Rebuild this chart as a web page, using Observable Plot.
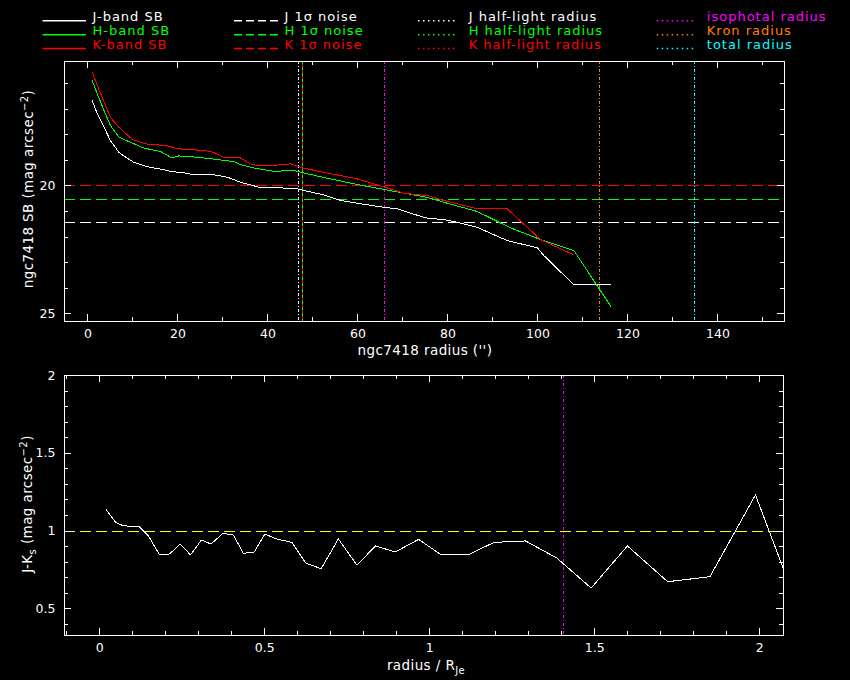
<!DOCTYPE html>
<html><head><meta charset="utf-8">
<script src="https://cdn.jsdelivr.net/npm/d3@7"></script>
<script src="https://cdn.jsdelivr.net/npm/@observablehq/plot@0.6"></script>
<style>
html,body{margin:0;padding:0;background:#000;}
#wrap{position:relative;width:850px;height:680px;background:#000;overflow:hidden;font-family:"DejaVu Sans",sans-serif;}
#wrap > svg{position:absolute;left:0;}
</style></head><body><div id="wrap"></div>
<script>
// ---------- data ----------
const jRadius = [0.97, 2.1, 3.6, 5.0, 6.9, 8.4, 10.2, 13.2, 16.2, 18.7, 21.3, 23.6, 28, 31, 33.9, 38.4, 45.8, 48, 52.4, 56.2, 60.6, 65.8, 68.8, 75, 79.1, 82.1, 86.5, 93.2, 99.9, 101.3, 108, 116.2];
const jSB     = [16.67, 17.19, 17.71, 18.23, 18.69, 18.88, 19.08, 19.25, 19.35, 19.44, 19.49, 19.57, 19.57, 19.66, 19.86, 20.07, 20.09, 20.18, 20.35, 20.57, 20.7, 20.84, 20.9, 21.25, 21.32, 21.42, 21.62, 22.14, 22.42, 22.72, 23.87, 23.87];
const hRadius = [0.97, 2.1, 3.6, 5.0, 6.9, 9.5, 12.4, 16.2, 18.7, 20.2, 24.3, 28.8, 32.4, 33.9, 36.9, 41.3, 45.8, 48.8, 53.2, 59.1, 65.8, 75.4, 79.9, 86.5, 93.9, 100.6, 108, 116.2];
const hSB     = [15.89, 16.41, 17.06, 17.64, 18.1, 18.3, 18.52, 18.66, 18.91, 18.83, 18.88, 18.97, 19.05, 19.17, 19.3, 19.43, 19.4, 19.53, 19.7, 19.92, 20.14, 20.45, 20.68, 21.0, 21.64, 22.1, 22.53, 24.7];
const kRadius = [0.97, 2.1, 3.6, 5.0, 6.9, 9.9, 12.8, 17.6, 19.9, 23.6, 27.3, 30.2, 33.9, 36.5, 40.6, 45, 48, 53.2, 59.5, 65.8, 70.2, 75.4, 79.9, 86.5, 93.2, 100.6, 108];
const kSB     = [15.56, 16.08, 16.73, 17.32, 17.71, 18.19, 18.36, 18.43, 18.55, 18.59, 18.65, 18.88, 18.91, 19.18, 19.21, 19.14, 19.31, 19.5, 19.71, 20.04, 20.29, 20.38, 20.61, 20.9, 20.9, 22.1, 22.7];

const bandNames  = ["J", "H", "K"];
const bandColors = ["#ffffff", "#00ff00", "#ff0000"];
const noiseSB    = [21.45, 20.55, 20.0];

const radiusNames  = ["J half-light radius", "H half-light radius", "K half-light radius", "isophotal radius", "Kron radius", "total radius"];
const radiusValues = [46.7, 47.6, 47.6, 66.0, 113.6, 134.7];
const radiusColors = ["#ffffff", "#00ff00", "#ff0000", "#ff00ff", "#ff8000", "#00ffff"];

const jkRadius = [0.020, 0.048, 0.062, 0.082, 0.117, 0.147, 0.181, 0.211, 0.244, 0.275, 0.308, 0.337, 0.373, 0.405, 0.435, 0.468, 0.500, 0.536, 0.582, 0.625, 0.671, 0.723, 0.779, 0.836, 0.895, 0.966, 1.034, 1.117, 1.195, 1.290, 1.385, 1.489, 1.599, 1.721, 1.849, 1.987, 2.072];
const jkColor  = [1.135, 1.055, 1.04, 1.032, 1.032, 0.97, 0.846, 0.852, 0.916, 0.846, 0.942, 0.916, 0.985, 0.974, 0.856, 0.865, 0.98, 0.949, 0.927, 0.792, 0.758, 0.949, 0.781, 0.904, 0.865, 0.946, 0.848, 0.848, 0.927, 0.936, 0.826, 0.633, 0.904, 0.674, 0.706, 1.232, 0.756];
const jkReference = [1.0];
const jkIsophotal = [1.404];

// tick values
const topXMajor = [0, 20, 40, 60, 80, 100, 120, 140];
const topXMinor = [10, 30, 50, 70, 90, 110, 130, 150];
const topYMajor = [20, 25];
const topYMinor = [16, 17, 18, 19, 21, 22, 23, 24];
const botXMajor = [0, 0.5, 1, 1.5, 2];
const botXMinor = [-0.1, 0.1, 0.2, 0.3, 0.4, 0.6, 0.7, 0.8, 0.9, 1.1, 1.2, 1.3, 1.4, 1.6, 1.7, 1.8, 1.9];
const botYMajor = [0.5, 1, 1.5, 2];
const botYMinor = [0.4, 0.6, 0.7, 0.8, 0.9, 1.1, 1.2, 1.3, 1.4, 1.6, 1.7, 1.8, 1.9];

// legend entries
const legendCols = [
  {kind: "solid", items: [["J-band SB", "#ffffff"], ["H-band SB", "#00ff00"], ["K-band SB", "#ff0000"]]},
  {kind: "dash",  items: [["J 1σ noise", "#ffffff"], ["H 1σ noise", "#00ff00"], ["K 1σ noise", "#ff0000"]]},
  {kind: "dot",   items: [["J half-light radius", "#ffffff"], ["H half-light radius", "#00ff00"], ["K half-light radius", "#ff0000"]]},
  {kind: "dot",   items: [["isophotal radius", "#ff00ff"], ["Kron radius", "#ff8000"], ["total radius", "#00ffff"]]}
];

// ---------- build tables ----------
const profiles = [
  ...jRadius.map((r, i) => ({band: "J", r, sb: jSB[i]})),
  ...hRadius.map((r, i) => ({band: "H", r, sb: hSB[i]})),
  ...kRadius.map((r, i) => ({band: "K", r, sb: kSB[i]}))
];
const noise = bandNames.map((b, i) => ({band: b, sb: noiseSB[i], color: bandColors[i]}));
const radii = radiusNames.map((n, i) => ({name: n, r: radiusValues[i], color: radiusColors[i]}));
const jk = jkRadius.map((r, i) => ({r, c: jkColor[i]}));

const wrap = document.getElementById("wrap");
const FONT = "DejaVu Sans";
const dotted = "3,2,1,2";
const crisp = {shapeRendering: "crispEdges"};

function tickMarks(xMajor, xMinor, yMajor, yMinor, innerW, innerH) {
  const M = 7, m = 4;
  const o = {stroke: "white", ...crisp};
  return [
    Plot.ruleX(xMajor, {x: d => d, ...o, insetTop: innerH - M}),
    Plot.ruleX(xMajor, {x: d => d, ...o, insetBottom: innerH - M}),
    Plot.ruleX(xMinor, {x: d => d, ...o, insetTop: innerH - m}),
    Plot.ruleX(xMinor, {x: d => d, ...o, insetBottom: innerH - m}),
    Plot.ruleY(yMajor, {y: d => d, ...o, insetRight: innerW - M}),
    Plot.ruleY(yMajor, {y: d => d, ...o, insetLeft: innerW - M}),
    Plot.ruleY(yMinor, {y: d => d, ...o, insetRight: innerW - m}),
    Plot.ruleY(yMinor, {y: d => d, ...o, insetLeft: innerW - m})
  ];
}

// ---------- top plot ----------
const T = {w: 850, h: 315, ml: 64, mr: 66, mt: 11, mb: 44};
const topPlot = Plot.plot({
  width: T.w, height: T.h, marginLeft: T.ml, marginRight: T.mr, marginTop: T.mt, marginBottom: T.mb,
  style: {background: "black", color: "white", fontFamily: FONT, fontSize: "12.5px"},
  x: {domain: [-5.2, 154.8]},
  y: {domain: [15.14, 25.3], reverse: true},
  color: {type: "identity"},
  marks: [
    Plot.ruleY(noise, {y: "sb", stroke: "color", strokeDasharray: "11,5", strokeWidth: 1, ...crisp}),
    Plot.ruleX(radii.filter(d => d.name !== "H half-light radius" && d.name !== "K half-light radius"), {x: "r", stroke: "color", strokeDasharray: dotted, strokeWidth: 1, ...crisp}),
    Plot.ruleX(radii.filter(d => d.name === "H half-light radius"), {x: "r", stroke: "color", strokeDasharray: "3,3", strokeWidth: 1, ...crisp}),
    Plot.ruleX(radii.filter(d => d.name === "K half-light radius"), {x: "r", stroke: "color", strokeDasharray: "3,3", strokeDashoffset: 3, strokeWidth: 1, ...crisp}),
    Plot.line(profiles, {x: "r", y: "sb", z: "band", stroke: d => bandColors[bandNames.indexOf(d.band)], strokeWidth: 1, ...crisp}),
    Plot.frame({stroke: "white", ...crisp}),
    ...tickMarks(topXMajor, topXMinor, topYMajor, topYMinor, T.w - T.ml - T.mr, T.h - T.mt - T.mb),
    Plot.axisX({ticks: topXMajor, tickSize: 0, tickPadding: 8, tickFormat: d => String(d), label: null}),
    Plot.axisY({ticks: topYMajor, tickSize: 0, tickPadding: 9, tickFormat: d => String(d), label: null})
  ]
});
topPlot.style.top = "50px";
wrap.appendChild(topPlot);

// ---------- bottom plot ----------
const B = {w: 850, h: 315, ml: 64, mr: 67, mt: 10, mb: 45};
const botPlot = Plot.plot({
  width: B.w, height: B.h, marginLeft: B.ml, marginRight: B.mr, marginTop: B.mt, marginBottom: B.mb,
  style: {background: "black", color: "white", fontFamily: FONT, fontSize: "12.5px"},
  x: {domain: [-0.107, 2.072]},
  y: {domain: [0.328, 2.0]},
  marks: [
    Plot.ruleY(jkReference, {y: d => d, stroke: "#ffff00", strokeDasharray: "11,5", strokeWidth: 1, ...crisp}),
    Plot.ruleX(jkIsophotal, {x: d => d, stroke: "#ff00ff", strokeDasharray: dotted, strokeWidth: 1, ...crisp}),
    Plot.line(jk, {x: "r", y: "c", stroke: "white", strokeWidth: 1, clip: true, ...crisp}),
    Plot.frame({stroke: "white", ...crisp}),
    ...tickMarks(botXMajor, botXMinor, botYMajor, botYMinor, B.w - B.ml - B.mr, B.h - B.mt - B.mb),
    Plot.axisX({ticks: botXMajor, tickSize: 0, tickPadding: 8, tickFormat: d => String(d), label: null}),
    Plot.axisY({ticks: botYMajor, tickSize: 0, tickPadding: 9, tickFormat: d => String(d), label: null})
  ]
});
botPlot.style.top = "365px";
wrap.appendChild(botPlot);

// ---------- axis labels with super/subscripts ----------
function richLabel(svg, x, y, rotate, parts) {
  const t = d3.select(svg).append("text")
    .attr("transform", `translate(${x},${y})` + (rotate ? " rotate(-90)" : ""))
    .attr("text-anchor", "middle")
    .attr("fill", "white")
    .attr("font-family", FONT)
    .attr("font-size", 13.5)
    .attr("letter-spacing", 0.4);
  let shift = 0;
  for (const p of parts) {
    const target = p.sup ? -5 : p.sub ? 4 : 0;
    t.append("tspan")
      .attr("dy", target - shift)
      .attr("font-size", p.sup || p.sub ? 10 : 13.5)
      .text(p.t);
    shift = target;
  }
}
richLabel(topPlot, 33, 139, true, [{t: "ngc7418 SB (mag arcsec"}, {t: "−2", sup: true}, {t: ")"}]);
richLabel(topPlot, 425, 305, false, [{t: "ngc7418 radius ('')"}]);
richLabel(botPlot, 32, 139, true, [{t: "J-K"}, {t: "s", sub: true}, {t: " (mag arcsec"}, {t: "−2", sup: true}, {t: ")"}]);
richLabel(botPlot, 426, 305, false, [{t: "radius / R"}, {t: "Je", sub: true}]);

// ---------- legend ----------
const legend = d3.create("svg").attr("width", 850).attr("height", 58).style("top", "0px");
const colX = [[42.5, 86, 92.6], [234, 278, 284.5], [418, 458, 468.7], [656.7, 695, 706.8]];
const rowY = [20.7, 34.7, 48.5];
legendCols.forEach((col, ci) => {
  col.items.forEach(([label, color], ri) => {
    const [x1, x2, tx] = colX[ci];
    legend.append("line")
      .attr("x1", x1).attr("x2", x2).attr("y1", rowY[ri]).attr("y2", rowY[ri])
      .attr("stroke", color).attr("stroke-width", 1.5)
      .attr("stroke-dasharray", col.kind === "dash" ? "8,4" : col.kind === "dot" ? "1.5,3.5" : null);
    legend.append("text")
      .attr("x", tx).attr("y", rowY[ri])
      .attr("fill", color)
      .attr("font-family", FONT)
      .attr("font-size", 13)
      .attr("letter-spacing", 1)
      .text(label);
  });
});
wrap.appendChild(legend.node());
</script></body></html>
